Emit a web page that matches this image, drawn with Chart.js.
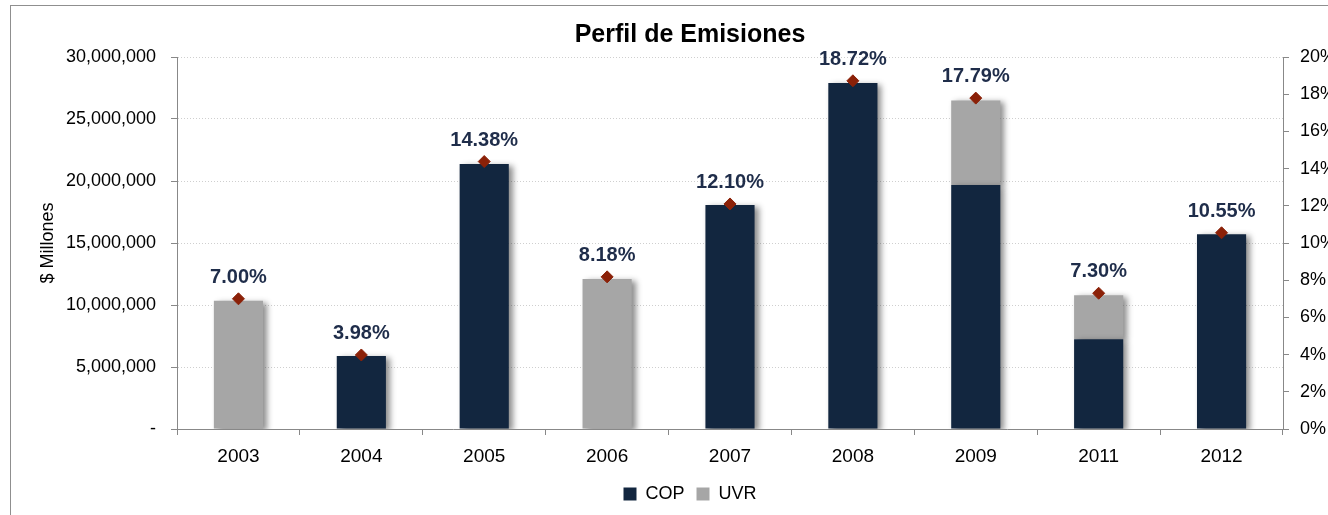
<!DOCTYPE html>
<html>
<head>
<meta charset="utf-8">
<script src="https://cdn.jsdelivr.net/npm/chart.js@4.4.1/dist/chart.umd.min.js"></script>
<style>
  html, body { margin: 0; padding: 0; background: #fff; overflow: hidden; }
  .frame {
    position: absolute; left: 10px; top: 5px;
    width: 1500px; height: 600px;
    border-top: 1px solid #8f8f8f; border-left: 1px solid #8f8f8f;
  }
  .wrap { position: absolute; left: 0; top: 0; width: 1356px; height: 515px; }
</style>
</head>
<body>
<div class="frame"></div>
<div class="wrap"><canvas id="emisionesChart"></canvas></div>
<script>
const years = ["2003", "2004", "2005", "2006", "2007", "2008", "2009", "2011", "2012"];
const copValues = [null, 5890000, 21370000, null, 18060000, 27900000, 19680000, 7230000, 15700000];
const uvrValues = [10350000, null, null, 12100000, null, null, 6820000, 3550000, null];
const rates = [7.0, 3.98, 14.38, 8.18, 12.1, 18.72, 17.79, 7.3, 10.55];
const leftTicks = [0, 5000000, 10000000, 15000000, 20000000, 25000000, 30000000];
const rightTicks = [0, 2, 4, 6, 8, 10, 12, 14, 16, 18, 20];

const FONT = "'Liberation Sans', Arial, sans-serif";
const NAVY = "#12263F";
const GREY = "#A6A6A6";
const MARKER = "#8B2108";

// soft shadow behind the bars, like the spreadsheet original
const barShadow = {
  id: "barShadow",
  beforeDatasetDraw(chart, args) {
    if (args.index > 1) return;
    const ctx = chart.ctx;
    ctx.save();
    ctx.shadowColor = "rgba(0, 0, 0, 0.45)";
    ctx.shadowBlur = 6;
    ctx.shadowOffsetX = 4;
    ctx.shadowOffsetY = 2;
  },
  afterDatasetDraw(chart, args) {
    if (args.index > 1) return;
    chart.ctx.restore();
  },
};

// percentage labels above the diamonds
const rateLabels = {
  id: "rateLabels",
  afterDatasetsDraw(chart) {
    const ctx = chart.ctx;
    const meta = chart.getDatasetMeta(2);
    ctx.save();
    ctx.font = "bold 20px " + FONT;
    ctx.fillStyle = "#1F2D4A";
    ctx.textAlign = "center";
    ctx.textBaseline = "alphabetic";
    meta.data.forEach((pt, i) => {
      ctx.fillText(rates[i].toFixed(2) + "%", pt.x, pt.y - 16);
    });
    ctx.restore();
  },
};

const ctx = document.getElementById("emisionesChart").getContext("2d");

new Chart(ctx, {
  type: "bar",
  data: {
    labels: years,
    datasets: [
      {
        label: "COP",
        data: copValues,
        backgroundColor: NAVY,
        stack: "s",
        yAxisID: "y",
        barPercentage: 0.4,
        categoryPercentage: 1,
        order: 2,
      },
      {
        label: "UVR",
        data: uvrValues,
        backgroundColor: GREY,
        stack: "s",
        yAxisID: "y",
        barPercentage: 0.4,
        categoryPercentage: 1,
        order: 2,
      },
      {
        label: "Tasa",
        type: "line",
        data: rates,
        yAxisID: "y1",
        showLine: false,
        pointStyle: "rectRot",
        pointRadius: 6,
        pointBackgroundColor: MARKER,
        pointBorderColor: MARKER,
        pointBorderWidth: 1,
        order: 1,
      },
    ],
  },
  options: {
    responsive: true,
    maintainAspectRatio: false,
    animation: false,
    layout: {
      padding: { left: 37, right: 13, top: 0, bottom: 2 },
    },
    plugins: {
      tooltip: { enabled: false },
      title: {
        display: true,
        text: "Perfil de Emisiones",
        color: "#000",
        font: { family: FONT, size: 25, weight: "bold" },
        padding: { top: 20, bottom: 7 },
      },
      legend: {
        position: "bottom",
        labels: {
          filter: (item) => item.datasetIndex < 2,
          boxWidth: 13,
          boxHeight: 13,
          color: "#000",
          font: { family: FONT, size: 18 },
          padding: 12,
        },
      },
    },
    scales: {
      x: {
        stacked: true,
        offset: true,
        grid: {
          display: true,
          drawOnChartArea: false,
          offset: true,
          tickLength: 6,
          color: "#888",
        },
        border: { display: true, color: "#888" },
        ticks: {
          color: "#000",
          font: { family: FONT, size: 19 },
          padding: 10,
        },
        afterFit: (scale) => { scale.height = 44; },
      },
      y: {
        stacked: true,
        position: "left",
        min: 0,
        max: 30000000,
        afterBuildTicks: (scale) => {
          scale.ticks = leftTicks.map((v) => ({ value: v }));
        },
        ticks: {
          color: "#000",
          font: { family: FONT, size: 18 },
          padding: 15,
          callback: (v) => (v === 0 ? "-" : v.toLocaleString("en-US")),
        },
        grid: {
          color: "#cfcfcf",
          tickLength: 6,
          tickColor: "#888",
          tickBorderDash: [],
        },
        border: { display: true, color: "#888", dash: [1, 2] },
        title: {
          display: true,
          text: "$ Millones",
          color: "#000",
          font: { family: FONT, size: 18 },
          padding: { top: 0, bottom: 0 },
        },
        afterFit: (scale) => { scale.width = 140; },
      },
      y1: {
        position: "right",
        min: 0,
        max: 20,
        afterBuildTicks: (scale) => {
          scale.ticks = rightTicks.map((v) => ({ value: v }));
        },
        ticks: {
          color: "#000",
          font: { family: FONT, size: 18 },
          padding: 11,
          callback: (v) => v + "%",
        },
        grid: {
          drawOnChartArea: false,
          tickLength: 6,
          color: "#888",
        },
        border: { display: true, color: "#888" },
        afterFit: (scale) => { scale.width = 60; },
      },
    },
  },
  plugins: [barShadow, rateLabels],
});
</script>
</body>
</html>
